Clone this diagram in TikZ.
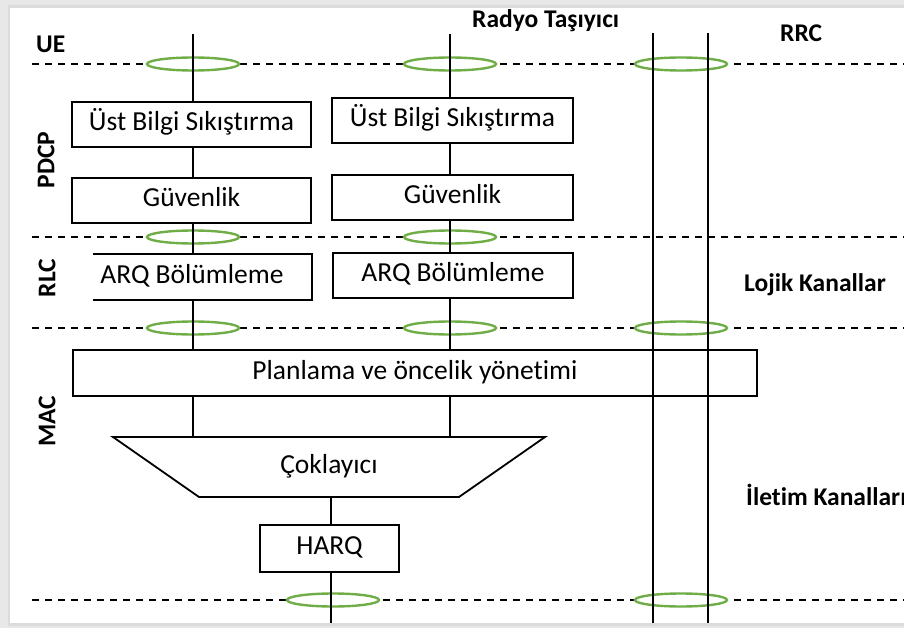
\documentclass[tikz,border=0pt]{standalone}
\usepackage{fontspec}
\setmainfont{Carlito}[Ligatures=NoCommon]
\usetikzlibrary{calc,shapes.geometric}
\definecolor{ovalgreen}{HTML}{70AD47}

\begin{document}
\begin{tikzpicture}[x=1pt,y=-1pt,
  box/.style={draw, line width=1.8pt, fill=white, inner sep=0pt,
    font=\fontsize{27.5}{30}\selectfont, text height=18pt, text depth=5.5pt},
  plain/.style={inner sep=0pt, font=\fontsize{27.5}{30}\selectfont,
    text height=18pt, text depth=5.5pt},
  lbl/.style={inner sep=0pt, font=\fontsize{25.5}{28}\selectfont\bfseries},
  link/.style={line width=1.8pt},
  layer/.style={line width=2.2pt, dash pattern=on 7pt off 6pt},
  oval/.style={ellipse, draw=ovalgreen, line width=2.4pt, fill=white,
    minimum width=92pt, minimum height=13pt, inner sep=0pt}
]
\useasboundingbox (0,0) rectangle (904,628);

% page and card
\fill[black!9] (0,0) rectangle (904,628);
\fill[black!14] (8,5) rectangle (904,626);
\fill[white] (10,8) rectangle (904,623);

% layer boundaries
\foreach \yy in {64,237,328,600}
  \draw[layer] (32,\yy) -- (904,\yy);

% radio bearer / channel markers
\node[oval] (o1a) at (193,64) {};
\node[oval] (o2a) at (450,64) {};
\node[oval] (o3a) at (681,64) {};
\node[oval] (o1b) at (193,237) {};
\node[oval] (o2b) at (450,237) {};
\node[oval] (o1c) at (193,328) {};
\node[oval] (o2c) at (450,328) {};
\node[oval] (o3c) at (681,328) {};
\node[oval] (o4d) at (333,600) {};
\node[oval] (o3d) at (681,600) {};

% column anchors
\coordinate (c1) at (193,34);
\coordinate (c2) at (450,34);
\coordinate (c3) at (331,623);

% PDCP / RLC blocks, first bearer
\node[box, minimum width=239pt, minimum height=45pt] (ust1) at (191.5,124.5) {Üst Bilgi Sıkıştırma};
\node[box, minimum width=239pt, minimum height=45pt] (guv1) at (191.5,200.5) {Güvenlik};
\node[plain, minimum width=240pt, minimum height=46pt] (arq1) at (192,277) {ARQ Bölümleme};
\draw[link] ($(arq1.north west)+(21,0)$) -- (arq1.north east) -- (arq1.south east) -- ($(arq1.south west)+(21,0)$);

% PDCP / RLC blocks, second bearer
\node[box, minimum width=241pt, minimum height=45pt] (ust2) at (452.5,120.5) {Üst Bilgi Sıkıştırma};
\node[box, minimum width=241pt, minimum height=45pt] (guv2) at (452.5,197.5) {Güvenlik};
\node[box, minimum width=240pt, minimum height=45pt] (arq2) at (453,275.5) {ARQ Bölümleme};

% MAC blocks
\node[box, minimum width=684pt, minimum height=46pt] (mac) at (415,373) {Planlama ve öncelik yönetimi};
\draw[link, fill=white] (113,437) -- (545,437) -- (459,497) -- (199,497) -- cycle;
\node[plain, minimum width=260pt, minimum height=60pt] (mux) at (329,467) {Çoklayıcı};
\node[box, minimum width=139pt, minimum height=47pt] (harq) at (329.5,548.5) {HARQ};

% connectors, first bearer
\draw[link] (c1) -- (c1 |- ust1.north);
\draw[link] (c1 |- ust1.south) -- (c1 |- guv1.north);
\draw[link] (c1 |- guv1.south) -- (c1 |- arq1.north);
\draw[link] (c1 |- arq1.south) -- (c1 |- mac.north);
\draw[link] (c1 |- mac.south) -- (c1 |- mux.north);

% connectors, second bearer
\draw[link] (c2) -- (c2 |- ust2.north);
\draw[link] (c2 |- ust2.south) -- (c2 |- guv2.north);
\draw[link] (c2 |- guv2.south) -- (c2 |- arq2.north);
\draw[link] (c2 |- arq2.south) -- (c2 |- mac.north);
\draw[link] (c2 |- mac.south) -- (c2 |- mux.north);

% multiplexer to HARQ and transport channel
\draw[link] (c3 |- mux.south) -- (c3 |- harq.north);
\draw[link] (c3 |- harq.south) -- (c3);

% RRC pair
\coordinate (r1t) at (653,33);
\coordinate (r1b) at (653,623);
\coordinate (r2t) at (708,33);
\coordinate (r2b) at (708,623);
\draw[link] (r1t) -- (r1b);
\draw[link] (r2t) -- (r2b);

% labels
\node[lbl, anchor=base west] (ue) at (36,53) {UE};
\node[lbl, anchor=base west] (rb) at (472,28) {Radyo Taşıyıcı};
\node[lbl, anchor=base west] (rrc) at (780,42) {RRC};
\node[lbl, anchor=base west] (lk) at (744,291) {Lojik Kanallar};
\node[lbl, anchor=base west] (ik) at (746,505) {İletim Kanalları};
\node[lbl, rotate=90] (pdcp) at (46,160) {PDCP};
\node[lbl, rotate=90] (rlc) at (47,278) {RLC};
\node[lbl, rotate=90] (macl) at (47,421) {MAC};
\end{tikzpicture}
\end{document}
